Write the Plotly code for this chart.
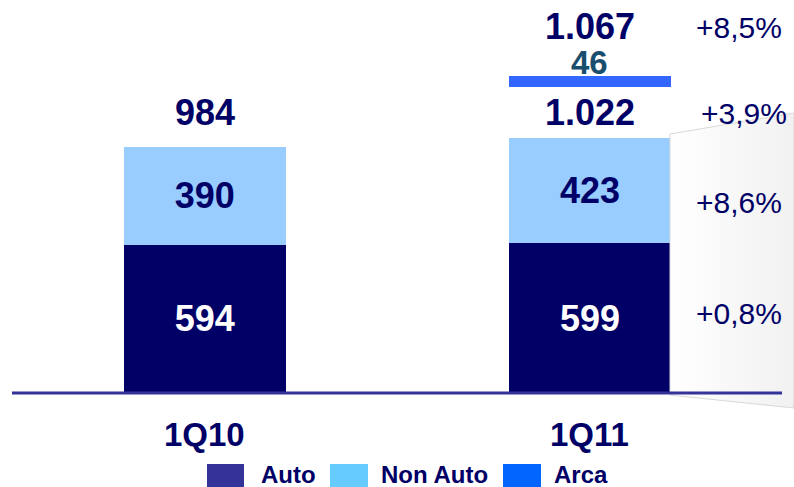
import plotly.graph_objs as go

# data
quarters = ["1Q10", "1Q11"]
auto = [594, 599]
non_auto = [390, 423]
totals = [984, 1022]
arca = 46
total_with_arca = 1067
growth = {"total_arca": "+8,5%", "total": "+3,9%", "non_auto": "+8,6%", "auto": "+0,8%"}
legend_names = ["Auto", "Non Auto", "Arca"]

# layout constants (pixel space of the 794x487 page)
W, H = 794, 487
BASE_PX = 393          # pixel row of the zero line
UNITS_PER_PX = 4.0
ARCA_GAP = 202         # Arca bar floats above the 1Q11 stack
NAVY = "#000066"
FONT = "Liberation Sans, Arial, sans-serif"


def fmt(v):
    return f"{v:,}".replace(",", ".")


def py(p):
    # pixel row -> paper y
    return 1 - p / H


def px(p):
    return p / W


def main():
    fig = go.Figure()

    # grey fan behind the growth column (pixel coordinates on overlay axes)
    fig.add_trace(go.Scatter(
        x=[670, 794, 794, 670, 670], y=[134, 113, 408, 395, 134],
        xaxis="x2", yaxis="y2", mode="lines", fill="toself",
        line=dict(color="#d8d8d8", width=1),
        fillgradient=dict(type="horizontal",
                          colorscale=[[0, "#ffffff"], [1, "#f1f1f1"]]),
        hoverinfo="skip", showlegend=False,
    ))

    fig.add_trace(go.Bar(
        x=quarters, y=auto, name="Auto", marker=dict(color=NAVY, line=dict(width=0)),
        text=[str(v) for v in auto], textposition="inside", insidetextanchor="middle",
        textfont=dict(family=FONT, size=36, color="white", weight="bold"),
        width=0.42, showlegend=False,
    ))
    fig.add_trace(go.Bar(
        x=quarters, y=non_auto, name="Non Auto", marker=dict(color="#99ccff", line=dict(width=0)),
        text=[str(v) for v in non_auto], textposition="inside", insidetextanchor="middle",
        textfont=dict(family=FONT, size=36, color=NAVY, weight="bold"),
        width=0.42, showlegend=False,
    ))
    fig.add_trace(go.Bar(
        x=[quarters[1]], y=[arca], base=[totals[1] + ARCA_GAP], name="Arca",
        marker=dict(color="#3366ff", line=dict(width=0)),
        width=0.42, showlegend=False,
    ))

    ann = []
    label_y = max(totals) + 100
    for q, t in zip(quarters, totals):
        ann.append(dict(x=q, y=label_y, text=fmt(t), showarrow=False, yanchor="middle",
                        font=dict(family=FONT, size=36, color=NAVY, weight="bold")))
    arca_top = totals[1] + ARCA_GAP + arca
    ann.append(dict(x=quarters[1], y=arca_top, yshift=13, text=str(arca), showarrow=False,
                    yanchor="middle", font=dict(family=FONT, size=33, color="#1a4e6e", weight="bold")))
    ann.append(dict(x=quarters[1], y=arca_top, yshift=49, text=fmt(total_with_arca), showarrow=False,
                    yanchor="middle", font=dict(family=FONT, size=36, color=NAVY, weight="bold")))
    for q in quarters:
        ann.append(dict(x=q, y=0, yshift=-41, text=q, showarrow=False, yanchor="middle",
                        font=dict(family=FONT, size=33, color=NAVY, weight="bold")))

    # growth column
    pct_font = dict(family=FONT, size=30, color=NAVY)
    rows = [
        (growth["total_arca"], arca_top, 48),
        (growth["total"], label_y, -1),
        (growth["non_auto"], auto[1] + non_auto[1] / 2, -12),
        (growth["auto"], auto[1] / 2, 5),
    ]
    for i, (txt, yv, shift) in enumerate(rows):
        ann.append(dict(xref="paper", x=px(739 + (5 if i == 1 else 0)), y=yv, yshift=shift,
                        text=txt, showarrow=False, xanchor="center", yanchor="middle",
                        font=pct_font))

    # legend drawn by hand
    shapes = [dict(type="line", xref="paper", yref="y", x0=px(12), x1=px(782), y0=0, y1=0,
                   line=dict(color="#333399", width=3), layer="above")]
    swatches = [(207, 244, "#333399", 259), (330, 368, "#66ccff", 379), (503, 541, "#0066ff", 552)]
    for name, (a, b, col, tx) in zip(legend_names, swatches):
        shapes.append(dict(type="rect", xref="paper", yref="paper", x0=px(a), x1=px(b),
                           y0=py(488), y1=py(464), fillcolor=col, line=dict(width=0)))
        ann.append(dict(xref="paper", yref="paper", x=px(tx), y=py(474), text=name,
                        showarrow=False, xanchor="left", yanchor="middle",
                        font=dict(family=FONT, size=24, color=NAVY, weight="bold")))

    fig.update_layout(
        width=W, height=H, margin=dict(l=0, r=0, t=0, b=0),
        barmode="stack", plot_bgcolor="white", paper_bgcolor="white",
        annotations=ann, shapes=shapes,
        xaxis=dict(type="category", range=[-0.532, 1.530], showticklabels=False,
                   showgrid=False, zeroline=False, showline=False),
        yaxis=dict(range=[-(H - BASE_PX) * UNITS_PER_PX, BASE_PX * UNITS_PER_PX],
                   visible=False, showgrid=False, zeroline=False),
        xaxis2=dict(overlaying="x", range=[0, W], visible=False),
        yaxis2=dict(overlaying="y", range=[H, 0], visible=False),
    )
    # page has a default 8px body margin; drop it so the chart fills the window
    fig.write_html("out.html", config={"displayModeBar": False},
                   post_script="document.body.style.margin='0px';")


if __name__ == "__main__":
    main()
